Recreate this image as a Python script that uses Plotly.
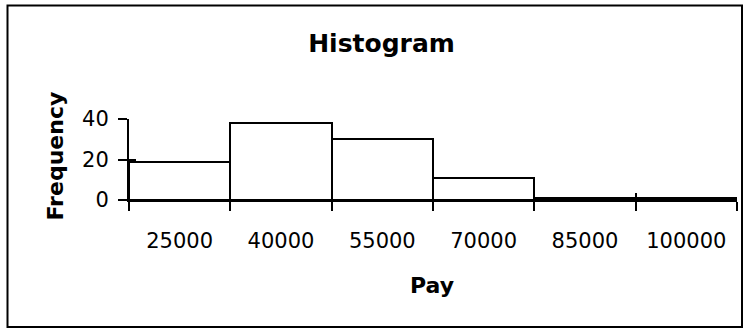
import plotly.graph_objects as go

# ---- data ----
categories = ["25000", "40000", "55000", "70000", "85000", "100000"]
frequency = [19, 38, 30, 11, 1, 1]
y_ticks = [0, 20, 40]
title_text = "Histogram"
x_title = "Pay"
y_title = "Frequency"

# ---- layout geometry (pixels) ----
W, H = 745, 330
L, R, T, B = 129, 8, 119, 130
PW = W - L - R
PH = H - T - B


def px_x(px):
    return (px - L) / PW


def px_y(py):
    return (H - B - py) / PH


FONT = "DejaVu Sans"

fig = go.Figure()
fig.add_trace(go.Bar(
    x=categories, y=frequency, width=1,
    marker=dict(color="white", line=dict(color="black", width=2)),
    hoverinfo="skip", showlegend=False,
))
# invisible helper trace so the overlay axes (crossing ticks) are drawn
fig.add_trace(go.Scatter(
    x=categories, y=frequency, xaxis="x2", yaxis="y2", mode="markers",
    marker=dict(opacity=0), hoverinfo="skip", showlegend=False,
))

ncat = len(categories)
xr = [-0.5, ncat - 0.5]
yr = [min(y_ticks), max(y_ticks)]

fig.update_layout(
    width=W, height=H,
    margin=dict(l=L, r=R, t=T, b=B, pad=0),
    paper_bgcolor="white", plot_bgcolor="white",
    showlegend=False,
    bargap=0,
    title=dict(text=title_text, x=381.5 / W, xanchor="center",
               y=1 - 43 / H, yanchor="middle", yref="container",
               font=dict(family=FONT, size=25, color="black", weight="bold")),
    xaxis=dict(type="category", range=xr, tickson="boundaries",
               ticks="outside", ticklen=9, tickwidth=2, tickcolor="black",
               showline=True, linecolor="black", linewidth=2,
               showgrid=False, zeroline=False,
               tickfont=dict(family=FONT, size=21, color="black"),
               ticklabelstandoff=21, fixedrange=True),
    xaxis2=dict(type="category", range=xr, tickson="boundaries",
                overlaying="x", anchor="y", side="bottom",
                ticks="inside", ticklen=7, tickwidth=2, tickcolor="black",
                showticklabels=False, showline=False, showgrid=False,
                zeroline=False, fixedrange=True),
    yaxis=dict(range=yr, tickmode="array", tickvals=y_ticks,
               ticks="outside", ticklen=9, tickwidth=2, tickcolor="black",
               showline=True, linecolor="black", linewidth=2,
               showgrid=False, zeroline=False,
               tickfont=dict(family=FONT, size=21, color="black"),
               ticklabelstandoff=5, fixedrange=True),
    yaxis2=dict(range=yr, tickmode="array", tickvals=y_ticks,
                overlaying="y", anchor="x", side="left",
                ticks="inside", ticklen=7, tickwidth=2, tickcolor="black",
                showticklabels=False, showline=False, showgrid=False,
                zeroline=False, fixedrange=True),
    annotations=[
        dict(text=x_title, xref="paper", yref="paper",
             x=px_x(432), y=px_y(285), xanchor="center", yanchor="middle",
             showarrow=False,
             font=dict(family=FONT, size=22, color="black", weight="bold")),
        dict(text=y_title, xref="paper", yref="paper", textangle=-90,
             x=px_x(55), y=px_y(156.5), xanchor="center", yanchor="middle",
             showarrow=False,
             font=dict(family=FONT, size=22, color="black", weight="bold")),
    ],
    shapes=[
        dict(type="rect", xref="paper", yref="paper",
             x0=px_x(7.5), x1=px_x(742), y0=px_y(327), y1=px_y(5.5),
             line=dict(color="black", width=2), fillcolor="rgba(0,0,0,0)",
             layer="below"),
    ],
)

fig.write_html("out.html", config=dict(displayModeBar=False),
               post_script="document.body.style.margin='0';")
